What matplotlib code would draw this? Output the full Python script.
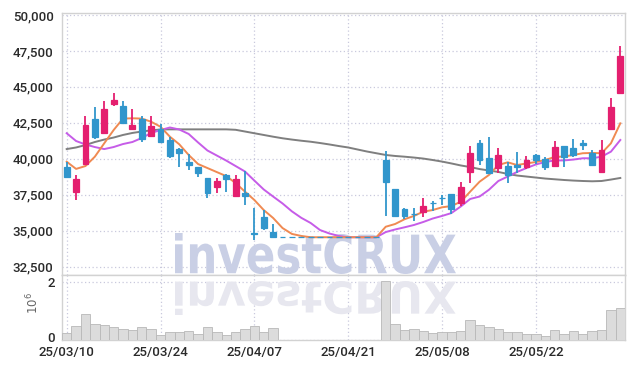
import matplotlib
matplotlib.use('Agg')
import matplotlib.pyplot as plt
from matplotlib.textpath import TextPath
from matplotlib.patches import PathPatch
from matplotlib.font_manager import FontProperties
from matplotlib.transforms import Affine2D, ScaledTranslation
from matplotlib.ticker import FuncFormatter

plt.rcParams['font.family'] = ['Roboto', 'DejaVu Sans']
plt.rcParams['font.weight'] = 500

# daily candles, 60 trading days (index 0 = 25/03/10); trading halted at idx 23-33
opens = [39400, 37700, 39650, 42800, 41800, 43800, 43700, 42050, 42800, 41600,
         42100, 41300, 40700, 39750, 39400, 38650, 38050, 38900, 37450, 37600,
         34850, 35950, 34900, 34550, 34550, 34550, 34550, 34550, 34550, 34550,
         34550, 34550, 34550, 34550, 39900, 37900, 36500, 36200, 36300, 36950,
         37300, 37550, 36950, 39100, 41100, 40050, 39350, 39500, 39550, 39400,
         40250, 40000, 39500, 40900, 40750, 41100, 40400, 39100, 42100, 44600]
highs = [39750, 38900, 42950, 43600, 44050, 44600, 44050, 43450, 42950, 42950,
         42450, 41550, 40750, 40350, 39450, 38700, 38700, 38950, 38900, 39150,
         36550, 36450, 35500, 34550, 34550, 34550, 34550, 34550, 34550, 34550,
         34550, 34550, 34550, 34550, 40550, 37900, 36600, 36600, 37300, 37050,
         37500, 37550, 38400, 40900, 41300, 41500, 40750, 39750, 40500, 40200,
         40350, 40150, 41250, 40900, 41350, 41300, 40600, 41300, 44250, 47850]
lows = [38700, 37150, 39600, 41350, 41750, 43650, 42400, 42000, 41200, 41500,
        41100, 40050, 39450, 39250, 38750, 37300, 37600, 37700, 37400, 36800,
        34350, 35050, 34500, 34550, 34550, 34550, 34550, 34550, 34550, 34550,
        34550, 34550, 34550, 34550, 36050, 36000, 35800, 35650, 35950, 36350,
        36800, 36200, 36700, 38300, 39600, 38950, 39050, 38350, 39050, 39300,
        39650, 39200, 39450, 39450, 40150, 40600, 39600, 39050, 42100, 44500]
closes = [38750, 38600, 42350, 41550, 43450, 44100, 42500, 42350, 41400, 42300,
          41200, 40200, 40400, 39600, 39050, 37650, 38450, 38600, 38600, 37450,
          34750, 35200, 34550, 34550, 34550, 34550, 34550, 34550, 34550, 34550,
          34550, 34550, 34550, 34550, 38400, 36050, 36050, 36150, 36750, 36900,
          37250, 36500, 38050, 40400, 39900, 39000, 40300, 38900, 39400, 39900,
          39900, 39450, 40800, 40100, 40250, 40950, 39600, 40600, 43600, 47150]

ma5 = [39800, 39300, 39500, 40150, 41080, 42000, 42800, 42820, 42800, 42580,
       42230, 41540, 41010, 40270, 39640, 39360, 39080, 38800, 38320, 37720,
       37140, 36440, 35890, 35190, 34780, 34640, 34550, 34550, 34550, 34550,
       34550, 34550, 34550, 34550, 35280, 35470, 35800, 36030, 36330, 36440,
       36630, 36720, 37020, 37720, 38410, 38880, 39570, 39760, 39570, 39680,
       39780, 39920, 40130, 40160, 40270, 40390, 40410, 40390, 41080, 42470]
ma10 = [41780, 41240, 41000, 40820, 40680, 40820, 41030, 41170, 41450, 41800,
        42000, 42180, 42040, 41730, 41140, 40580, 40230, 39880, 39500, 39120,
        38490, 37870, 37380, 36900, 36350, 35900, 35540, 35050, 34810, 34640,
        34550, 34550, 34550, 34550, 34910, 35090, 35240, 35400, 35610, 35850,
        36030, 36230, 36690, 37210, 37380, 37850, 38460, 38770, 39090, 39360,
        39610, 39780, 39890, 39890, 39950, 40040, 40040, 40150, 40500, 41310]
ma60 = [40680, 40790, 40960, 41170, 41340, 41480, 41660, 41800, 41900, 41980,
        42040, 42050, 42050, 42050, 42050, 42050, 42050, 42050, 42020, 41900,
        41780, 41660, 41540, 41430, 41340, 41260, 41190, 41100, 41000, 40890,
        40790, 40650, 40510, 40390, 40270, 40200, 40150, 40090, 40020, 39920,
        39810, 39680, 39540, 39430, 39290, 39190, 39090, 38950, 38840, 38770,
        38700, 38630, 38580, 38530, 38490, 38460, 38440, 38460, 38560, 38670]

# volume in millions
volume = [0.24, 0.49, 0.89, 0.56, 0.51, 0.44, 0.38, 0.34, 0.44, 0.38,
          0.17, 0.27, 0.27, 0.32, 0.21, 0.44, 0.27, 0.17, 0.27, 0.38,
          0.49, 0.28, 0.41, 0, 0, 0, 0, 0, 0, 0,
          0, 0, 0, 0, 2.03, 0.56, 0.35, 0.39, 0.32, 0.25,
          0.28, 0.28, 0.32, 0.69, 0.52, 0.45, 0.39, 0.28, 0.28, 0.21,
          0.21, 0.14, 0.34, 0.21, 0.32, 0.21, 0.32, 0.35, 1.03, 1.09]

tick_pos = [0, 10, 20, 30, 40, 50]
tick_labels = ['25/03/10', '25/03/24', '25/04/07', '25/04/21', '25/05/08', '25/05/22']

up_col = '#e41f6f'
down_col = '#3196cc'
grid_col = '#c9c9dd'
spine_col = '#d2d2d2'

W, H = 635, 369
fig = plt.figure(figsize=(W / 100, H / 100), dpi=100)
ax = fig.add_axes([62 / W, 1 - 275 / H, 563 / W, 262 / H])
axv = fig.add_axes([62 / W, 1 - 340 / H, 563 / W, 65 / H], sharex=ax)

x = list(range(len(closes)))
cols = [up_col if c > o else down_col for o, c in zip(opens, closes)]
bottoms = [min(o, c) for o, c in zip(opens, closes)]
heights = [abs(c - o) for o, c in zip(opens, closes)]

ax.vlines(x, lows, highs, colors=cols, lw=1.3, zorder=3)
ax.bar(x, heights, bottom=bottoms, width=0.62, color=cols, edgecolor=cols, lw=0.9, zorder=4)

ax.plot(x, ma60, color='#7f7f7f', lw=1.4, zorder=2)
ax.plot(x, ma10, color='#c65ce8', lw=1.4, zorder=2)
ax.plot(x, ma5, color='#f08a52', lw=1.4, zorder=2)

axv.bar(x, volume, width=1.0, color='#dcdcdc', edgecolor='#b8b8b8', lw=0.6, zorder=3)

ax.set_xlim(-0.5, 59.5)
ax.set_ylim(31925, 50139)
ax.set_yticks(range(32500, 50001, 2500))
ax.yaxis.set_major_formatter(FuncFormatter(lambda v, p: f'{int(v):,}'))
axv.set_ylim(0, 2.23)
axv.set_yticks([0, 2])
axv.set_xticks(tick_pos)
axv.set_xticklabels(tick_labels)

for a in (ax, axv):
    a.set_axisbelow(True)
    a.grid(True, color=grid_col, ls=(0, (1, 2)), lw=0.9)
    a.tick_params(length=0, labelsize=9.5, colors='#2a2a2a', pad=6)
    for s in a.spines.values():
        s.set_color(spine_col)
        s.set_linewidth(1.0)
ax.tick_params(labelbottom=False)
axv.tick_params(axis='x', pad=4)
axv.tick_params(axis='y', pad=5)

# nudge the volume "0" label up so it clears the first date label
zero_lab = axv.yaxis.get_major_ticks()[0].label1
zero_lab.set_transform(zero_lab.get_transform() + ScaledTranslation(0, 2.5 / 72, fig.dpi_scale_trans))

fig.text(33 / W, 1 - 303 / H, r'$10^6$', rotation=90, ha='center', va='center',
         color='#666666', fontsize=8.5)

# watermark and its mirrored reflection
tp = TextPath((0, 0), 'investCRUX', size=100,
              prop=FontProperties(family='DejaVu Sans', weight='bold'))
bb = tp.get_extents()
to_fig = Affine2D().scale(1 / W, 1 / H) + fig.transFigure
x0, x1 = 175, 456
sx = (x1 - x0) / bb.width
main_tr = Affine2D().translate(-bb.x0, -bb.y0).scale(sx, 41 / bb.height).translate(x0, H - 274)
refl_tr = Affine2D().translate(-bb.x0, -bb.y0).scale(sx, -34 / bb.height).translate(x0, H - 281)
ax.add_patch(PathPatch(tp, transform=main_tr + to_fig, facecolor='#c9cfe5',
                       edgecolor='none', zorder=1))
axv.add_patch(PathPatch(tp, transform=refl_tr + to_fig, facecolor='#e7e7ef',
                        edgecolor='none', zorder=1))

fig.savefig('out.png', dpi=100, facecolor='white')
